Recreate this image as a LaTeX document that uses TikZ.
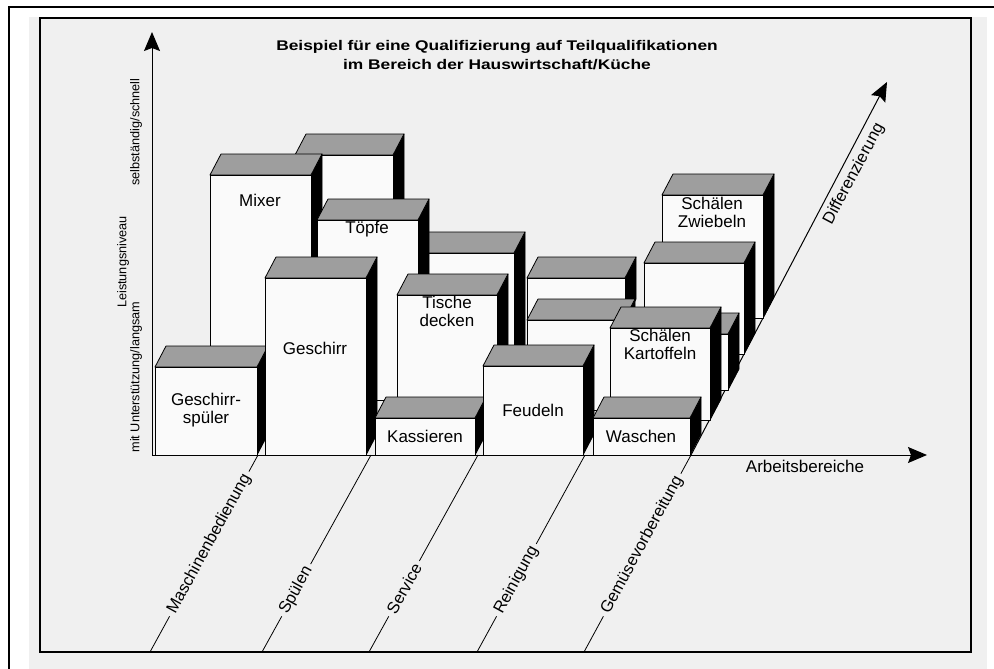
\documentclass[tikz,border=0pt]{standalone}
\usepackage{fontspec}
\setmainfont{Liberation Sans}
\usepackage{graphicx}
\usetikzlibrary{arrows.meta}

\begin{document}
\begin{tikzpicture}[x=1pt,y=-1pt,
    qfront/.style={draw,fill=black!2,line width=0.8pt,line join=round},
    qtop/.style={draw,fill=black!38,line width=0.8pt,line join=round},
    qside/.style={draw,fill=black,line width=0.8pt,line join=round},
    boxlabel/.style={font=\fontsize{17}{18}\selectfont,align=center,inner sep=0pt},
    arrowaxis/.style={line width=1pt,-{Stealth[length=19pt,width=16pt,inset=3pt]}},
    arealine/.style={line width=0.8pt},
    arealabel/.style={font=\fontsize{16.5}{18}\selectfont,fill=black!6,inner xsep=4pt,inner ysep=1pt,sloped,anchor=west,pos=0.18},
    axislabel/.style={font=\fontsize{12.7}{14}\selectfont,rotate=90,inner sep=0pt}]
    \def\quader#1#2#3#4{
        \draw[qside] (#2,#3) -- (#2+11,#3-21) -- (#2+11,#4-21) -- (#2,#4) -- cycle;
        \draw[qtop] (#1,#3) -- (#1+11,#3-21) -- (#2+11,#3-21) -- (#2,#3) -- cycle;
        \draw[qfront] (#1,#3) rectangle (#2,#4);
    }
    \useasboundingbox (0,0) rectangle (994,669);
    \fill[black!6] (29,17) rectangle (987,669);
    \draw[line width=1.2pt] (40,18) rectangle (971,652);
    \draw[line width=2pt] (9,669) -- (9,7) -- (994,7);

    \node[font=\fontsize{14}{19}\bfseries\selectfont,align=center,inner sep=0pt] (title) at (497,55)
        {\scalebox{1.24}[1]{Beispiel für eine Qualifizierung auf Teilqualifikationen}\\\scalebox{1.24}[1]{im Bereich der Hauswirtschaft/Küche}};

    \coordinate (o) at (152,455);
    \coordinate (ytip) at (152,32);
    \coordinate (xtip) at (927,455);
    \coordinate (dtip) at (887,82);
    \coordinate (m0) at (258,455);
    \coordinate (m1) at (150,652);
    \coordinate (s0) at (371,455);
    \coordinate (s1) at (262,652);
    \coordinate (v0) at (478,455);
    \coordinate (v1) at (369,652);
    \coordinate (r0) at (585,455);
    \coordinate (r1) at (477,652);
    \coordinate (g0) at (691,455);
    \coordinate (g1) at (584,652);

    \draw[arealine] (m1) -- (m0) node[arealabel] (mb) {Maschinenbedienung};
    \draw[arealine] (s1) -- (s0) node[arealabel] (sp) {Spülen};
    \draw[arealine] (v1) -- (v0) node[arealabel] (sv) {Service};
    \draw[arealine] (r1) -- (r0) node[arealabel] (rg) {Reinigung};
    \draw[arealine] (g1) -- (g0) node[arealabel] (gv) {Gemüsevorbereitung};

    \draw[arrowaxis] (o) -- (ytip);
    \draw[arrowaxis] (o) -- (xtip);
    \draw[arrowaxis] (g0) -- (dtip);

    \node[axislabel] (fast) at (136,132) {selbständig/schnell};
    \node[axislabel] (level) at (123,262) {Leistungsniveau};
    \node[axislabel] (slow) at (136,377) {mit Unterstützung/langsam};
    \node[font=\fontsize{17}{18}\selectfont] (areas) at (805,466) {Arbeitsbereiche};
    \node[font=\fontsize{16.5}{18}\selectfont,rotate=62] (diff) at (854,174) {Differenzierung};

    \quader{295}{393}{155}{222}
    \quader{662}{763}{195}{318}
    \quader{527}{625}{278}{320}
    \quader{644}{744}{263}{354}
    \quader{210}{311}{175}{358}
    \quader{417}{514}{253}{390}
    \quader{317}{418}{220}{400}
    \quader{627}{728}{334}{390}
    \quader{527}{624}{320}{410}
    \quader{610}{710}{328}{420}
    \quader{397}{497}{295}{421}
    \quader{155}{257}{367}{455}
    \quader{265}{366}{278}{455}
    \quader{375}{475}{418}{455}
    \quader{483}{583}{366}{455}
    \quader{593}{690}{418}{455}

    \node[boxlabel] (spueler) at (206,410) {Geschirr-\\spüler};
    \node[boxlabel] (mixer) at (260,200) {Mixer};
    \node[boxlabel] (geschirr) at (315,348) {Geschirr};
    \node[boxlabel] (toepfe) at (367,229) {Töpfe};
    \node[boxlabel] (tische) at (447,311) {Tische\\decken};
    \node[boxlabel] (kasse) at (425,436) {Kassieren};
    \node[boxlabel] (feudeln) at (533,410) {Feudeln};
    \node[boxlabel] (waschen) at (641,436) {Waschen};
    \node[boxlabel] (kartoffeln) at (660,344) {Schälen\\Kartoffeln};
    \node[boxlabel] (zwiebeln) at (712,212) {Schälen\\Zwiebeln};
\end{tikzpicture}
\end{document}
